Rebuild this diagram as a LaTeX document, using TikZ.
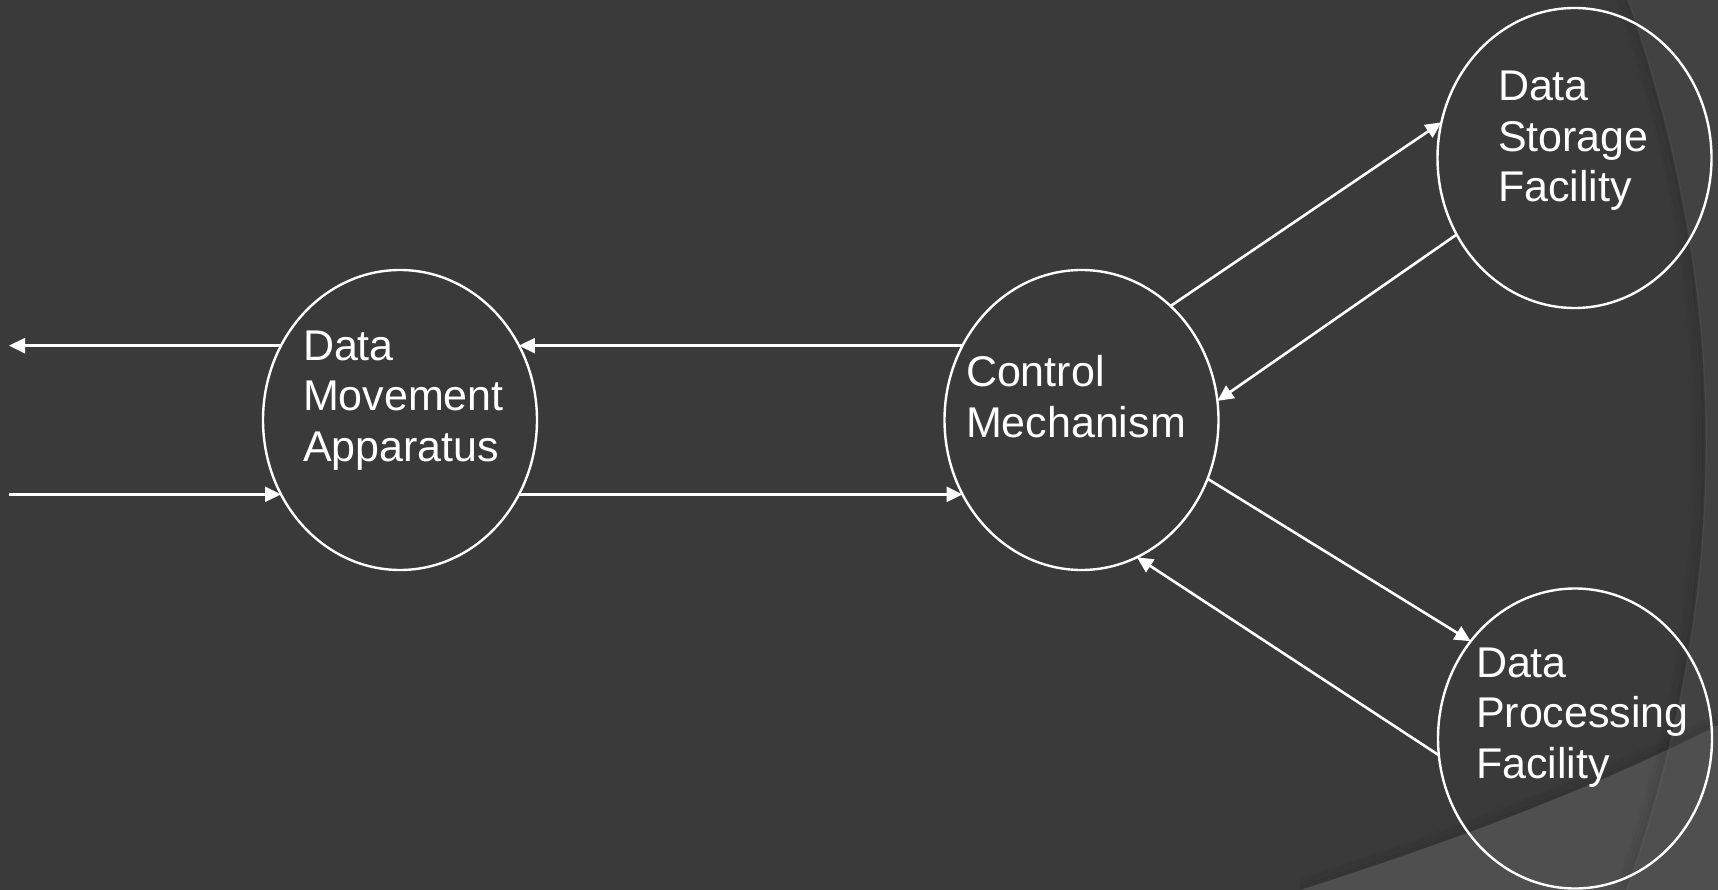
\documentclass[tikz,border=0pt]{standalone}
\usepackage{fontspec}
\newfontfamily\bubblefont{Liberation Sans}
\usetikzlibrary{shapes.geometric,arrows.meta}
\definecolor{slate}{HTML}{3A3A3A}
\definecolor{slatemid}{HTML}{424242}
\definecolor{slatelight}{HTML}{4F4F4F}

\begin{document}
\begin{tikzpicture}[x=1pt,y=-1pt,
  bubble/.style={ellipse, draw=white, line width=2.4pt,
    minimum width=274pt, minimum height=300pt, inner sep=0pt, outer sep=0pt},
  bubbletext/.style={text=white, inner sep=0pt, outer sep=0pt, anchor=base west,
    font=\bubblefont\fontsize{43}{50.5}\selectfont},
  flow/.style={draw=white, line width=2.6pt, -{Triangle[length=16pt,width=15pt]}},
  softshade/.style={black, line width=4pt}]

% backdrop with the curved panels on the right
\useasboundingbox (0,0) rectangle (1718,890);
\fill[slate] (0,0) rectangle (1718,890);
\fill[slatemid] (1628,0) .. controls (1732.3,296.7) and (1732,593.3) .. (1627,890)
  -- (1718,890) -- (1718,0) -- cycle;
\fill[slatelight] (1300,890) .. controls (1440,845) and (1580,795) .. (1718,725)
  -- (1718,890) -- cycle;
% soft shadows on the dark side of each panel edge
\foreach \d/\o in {2/0.07,5/0.05,8/0.035,11/0.02}{
  \draw[softshade, opacity=\o]
    (1628-\d,0) .. controls (1732.3-\d,296.7) and (1732-\d,593.3) .. (1627-\d,890);
  \draw[softshade, opacity=\o]
    (1300,890-\d) .. controls (1440,845-\d) and (1580,795-\d) .. (1718,725-\d);
}
\draw[white, opacity=0.05, line width=1.5pt]
  (1628,0) .. controls (1732.3,296.7) and (1732,593.3) .. (1627,890);

% processes
\node[bubble] (dma) at (400,420) {};
\node[bubble] (cm)  at (1081.5,420) {};
\node[bubble] (ds)  at (1574.5,158) {};
\node[bubble] (dp)  at (1575,738.5) {};

\node[bubbletext] (dmaT) at (303,360)
  {\begin{tabular}[t]{@{}l@{}}Data\\Movement\\Apparatus\end{tabular}};
\node[bubbletext] (cmT) at (966,386.7)
  {\begin{tabular}[t]{@{}l@{}}Control\\Mechanism\end{tabular}};
\node[bubbletext] (dsT) at (1498,101)
  {\begin{tabular}[t]{@{}l@{}}Data\\Storage\\Facility\end{tabular}};
\node[bubbletext] (dpT) at (1476,677.3)
  {\begin{tabular}[t]{@{}l@{}}Data\\Processing\\Facility\end{tabular}};

% data flows
\coordinate (edgeL) at (9,0);
\draw[flow] (dma.148) -- (dma.148 -| edgeL);
\draw[flow] (dma.212 -| edgeL) -- (dma.212);
\draw[flow] (cm.148) -- (dma.32);
\draw[flow] (dma.-32) -- (cm.212);
\draw[flow] (cm.52) -- (ds.165);
\draw[flow] (ds.213) -- (cm.8);
\draw[flow] (cm.-25) -- (dp.137);
\draw[flow] (dp.187) -- (cm.-68);
\end{tikzpicture}
\end{document}
